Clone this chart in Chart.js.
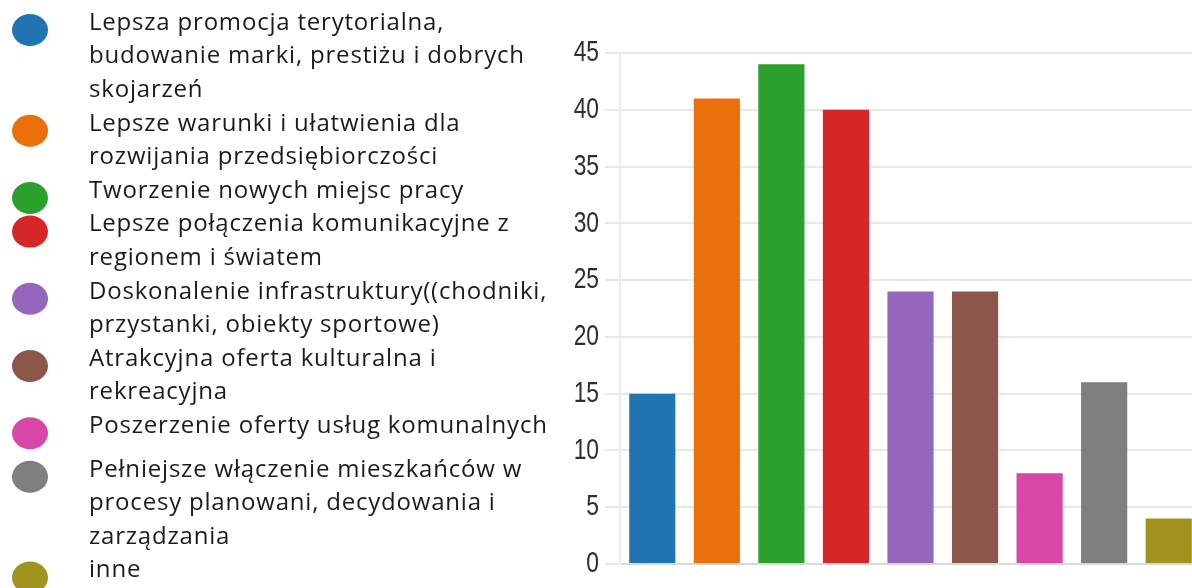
<!DOCTYPE html>
<html lang="pl">
<head>
<meta charset="utf-8">
<title>Oczekiwane korzyści</title>
<script src="https://cdn.jsdelivr.net/npm/chart.js@4/dist/chart.umd.min.js"></script>
<style>
  html, body { margin: 0; padding: 0; background: #fff; overflow: hidden; }
  #wrap { position: relative; width: 1232px; height: 588px; }
</style>
</head>
<body>
<div id="wrap"><canvas id="c" width="1232" height="588"></canvas></div>
<script>
// Categories (each as the lines shown in the side legend)
const categories = [
  ["Lepsza promocja terytorialna,", "budowanie marki, prestiżu i dobrych", "skojarzeń"],
  ["Lepsze warunki i ułatwienia dla", "rozwijania przedsiębiorczości"],
  ["Tworzenie nowych miejsc pracy"],
  ["Lepsze połączenia komunikacyjne z", "regionem i światem"],
  ["Doskonalenie infrastruktury((chodniki,", "przystanki, obiekty sportowe)"],
  ["Atrakcyjna oferta kulturalna i", "rekreacyjna"],
  ["Poszerzenie oferty usług komunalnych"],
  ["Pełniejsze włączenie mieszkańców w", "procesy planowani, decydowania i", "zarządzania"],
  ["inne"]
];

// Number of answers per category
const answers = [15, 41, 44, 40, 24, 24, 8, 16, 4];

// Bar / legend colours
const colors = ["#1f74b1", "#e9700a", "#2ca02c", "#d62728", "#9467bd",
                "#8c564b", "#d647a8", "#7f7f7f", "#a0941e"];

// Y axis ticks
const yTicks = [0, 5, 10, 15, 20, 25, 30, 35, 40, 45];

// Legend drawn in the left margin, one circle per category
const sideLegend = {
  id: 'sideLegend',
  afterDraw(chart, args, opts) {
    const ctx = chart.ctx;
    const labels = chart.data.labels;
    const bg = chart.data.datasets[0].backgroundColor;
    let y = opts.top;
    ctx.save();
    ctx.font = opts.font;
    if ('letterSpacing' in ctx) ctx.letterSpacing = opts.letterSpacing;
    ctx.textBaseline = 'middle';
    ctx.textAlign = 'left';
    labels.forEach((lines, i) => {
      y += (opts.extraGap[i] || 0);
      ctx.fillStyle = bg[i];
      ctx.beginPath();
      ctx.ellipse(opts.dotX, y + opts.dotOffset, opts.dotRx, opts.dotRy, 0, 0, Math.PI * 2);
      ctx.fill();
      ctx.fillStyle = opts.color;
      lines.forEach(line => {
        ctx.fillText(line, opts.textX, y);
        y += opts.lineHeight;
      });
    });
    ctx.restore();
  }
};

// Narrow, tall tick numerals: squeeze the y labels horizontally around their right edge
const narrowTicks = {
  id: 'narrowTicks',
  beforeDraw(chart, args, opts) {
    const s = chart.scales.y;
    if (!s || s._narrowed) return;
    const orig = s.drawLabels;
    s.drawLabels = function (area) {
      const c = this.ctx;
      const tl = this.options.grid.tickLength;
      const ax = this.right - tl - this.options.ticks.padding;
      c.save();
      c.translate(ax, 0);
      c.scale(opts.factor, 1);
      c.translate(-ax, 0);
      orig.call(this, area);
      c.restore();
    };
    s._narrowed = true;
  }
};

new Chart(document.getElementById('c'), {
  type: 'bar',
  data: {
    labels: categories,
    datasets: [{
      data: answers,
      backgroundColor: colors,
      borderWidth: 0,
      categoryPercentage: 1,
      barPercentage: 0.715
    }]
  },
  plugins: [sideLegend, narrowTicks],
  options: {
    responsive: false,
    animation: false,
    devicePixelRatio: 1,
    layout: { padding: { left: 560, top: 53, right: 31, bottom: 21 } },
    plugins: {
      legend: { display: false },
      tooltip: { enabled: false },
      narrowTicks: { factor: 0.76 },
      sideLegend: {
        top: 23,
        lineHeight: 33.6,
        extraGap: { 7: 10 },
        textX: 89,
        dotX: 30,
        dotOffset: 7,
        dotRx: 18,
        dotRy: 16,
        font: '24px "Open Sans", sans-serif',
        letterSpacing: '0.8px',
        color: '#1b1b1b'
      }
    },
    scales: {
      x: {
        grid: { display: false },
        ticks: { display: false },
        border: { display: true, color: '#d9d9d9', width: 2 },
        afterFit(scale) { scale.height = 0; }
      },
      y: {
        min: 0,
        max: 45,
        afterBuildTicks(scale) { scale.ticks = yTicks.map(v => ({ value: v })); },
        grid: { color: '#e8e8e8', lineWidth: 2, tickLength: 15 },
        border: { display: true, color: '#ececec', width: 2 },
        ticks: {
          padding: 6,
          color: '#2e2e2e',
          font: { family: '"Liberation Sans", sans-serif', size: 30 }
        },
        afterFit(scale) { scale.width = 60; }
      }
    }
  }
});
</script>
</body>
</html>
